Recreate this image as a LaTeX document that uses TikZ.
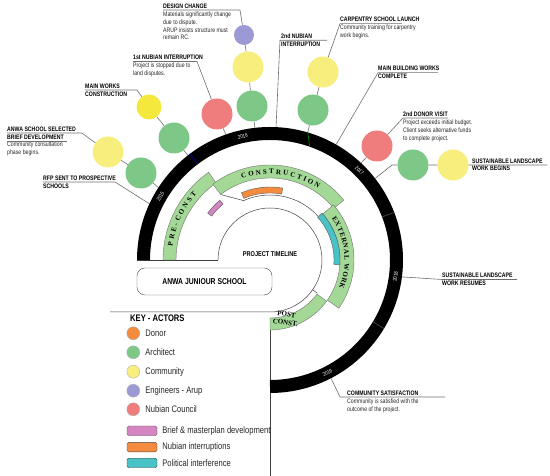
\documentclass[tikz,border=0pt]{standalone}
\usepackage{fontspec}
\setmainfont{Liberation Sans}[FakeStretch=0.8]
\newfontfamily\phasefont{Liberation Serif}
\usetikzlibrary{positioning,decorations.text}

\definecolor{archgreen}{HTML}{7DC887}
\definecolor{comyellow}{HTML}{F8EE7D}
\definecolor{workyellow}{HTML}{F4E83C}
\definecolor{nubred}{HTML}{F07D7D}
\definecolor{engpurple}{HTML}{9C9AD4}
\definecolor{donorange}{HTML}{F58B3F}
\definecolor{phasegreen}{HTML}{A3D896}
\definecolor{briefpink}{HTML}{D586C2}
\definecolor{polcyan}{HTML}{48C1C7}
\definecolor{leadgrey}{HTML}{6E6E6E}

\newcommand{\phasestyle}{\phasefont\bfseries\fontsize{7}{7}\selectfont}
% annular piece round the centre C: style, from, to, inner r, outer r
\newcommand{\ringpart}[5]{%
  \path[#1] ([shift={(#2:#4)}]C) arc[start angle=#2, end angle=#3, radius=#4]
    -- ([shift={(#3:#5)}]C) arc[start angle=#3, end angle=#2, radius=#5] -- cycle;}

\begin{document}
\begin{tikzpicture}[x=1pt, y=1pt,
    ttl/.style={font=\fontsize{6.5}{7.8}\selectfont\bfseries, inner sep=0pt, anchor=base west},
    note/.style={font=\fontsize{6.5}{7.8}\selectfont, text=black!85, inner sep=0pt, anchor=base west, align=left},
    actor/.style={circle, inner sep=0pt, minimum size=31pt},
    keydot/.style={circle, inner sep=0pt, minimum size=13pt, draw=gray!60},
    keybar/.style={draw=black!70, rounded corners=1.5pt, minimum width=30pt, minimum height=9.5pt, inner sep=0pt},
    keytext/.style={font=\fontsize{9.5}{10}\selectfont, text=black!85, inner sep=0pt},
    lead/.style={draw=leadgrey, line width=0.6pt},
    phase/.style={fill=phasegreen, draw=black!55, line width=0.4pt},
    bar/.style={draw=black!65, line width=0.4pt},
    yr/.style={font=\fontsize{5.5}{6}\selectfont, text=white, inner sep=0pt}]

    \useasboundingbox (0,0) rectangle (550,476);
    \coordinate (C) at (270,216);

    % Inner frame and key box
    \draw[black!75, line width=0.5pt] ([shift={(180:52pt)}]C) arc[start angle=180, end angle=-90, radius=52pt] -- (110,164);
    \draw[black!75, line width=0.5pt] (137,216) -- (218,216);
    \draw[black!75, line width=0.5pt] (270,158) -- (270,0);
    \draw[black!75, line width=0.5pt] ([shift={(-35:52pt)}]C) -- ([shift={(-35:58pt)}]C);
    \draw[black!75, line width=0.5pt] ([shift={(127:82pt)}]C) -- ([shift={(114:65pt)}]C) arc[start angle=114, end angle=42, radius=65pt];

    % Phases
    \ringpart{phase}{180}{125}{94pt}{107pt}
    \ringpart{phase}{127}{39}{82pt}{95pt}
    \ringpart{phase}{41}{-35}{70pt}{84pt}
    \ringpart{phase}{-36}{-90}{58pt}{70pt}
    \path[decorate, decoration={text along path, text={|\phasestyle|PRE-CONST}, text align={fit to path}}]
        ([shift={(172:98.5pt)}]C) arc[start angle=172, end angle=138, radius=98.5pt];
    \path[decorate, decoration={text along path, text={|\phasestyle|CONSTRUCTION}, text align={fit to path}}]
        ([shift={(109:86pt)}]C) arc[start angle=109, end angle=56, radius=86pt];
    \path[decorate, decoration={text along path, text={|\phasestyle|EXTERNAL WORK}, text align={fit to path}}]
        ([shift={(34:74.5pt)}]C) arc[start angle=34, end angle=-22, radius=74.5pt];
    \node[font=\phasefont\bfseries\fontsize{7}{8.4}\selectfont, align=center, inner sep=0pt, rotate=-8] (post) at (286,157.5) {POST\\CONST.};

    % Events along the phases
    \ringpart{bar, fill=briefpink}{143}{130}{73pt}{78pt}
    \ringpart{bar, fill=donorange}{113}{80}{67pt}{73pt}
    \ringpart{bar, fill=polcyan}{42}{-4}{64pt}{70pt}

    % Centre labels
    \node[font=\fontsize{7}{8}\selectfont\bfseries, inner sep=0pt] (tl) at (270,222) {PROJECT TIMELINE};
    \node[draw=black!70, rounded corners=8pt, minimum width=135pt, minimum height=27pt,
        font=\fontsize{8.5}{9}\selectfont\bfseries] (school) at (204.5,194.5) {ANWA JUNIOUR SCHOOL};

    % Actors
    \node[actor, fill=engpurple, minimum size=20pt] (eng) at (244,441) {};
    \node[actor, fill=comyellow] (dc-com) at (248,409) {};
    \node[actor, fill=archgreen] (dc-arch) at (252,370) {};
    \node[actor, fill=nubred] (nub1) at (217,362) {};
    \node[actor, fill=workyellow, minimum size=25pt] (mw-com) at (149,369) {};
    \node[actor, fill=archgreen] (mw-arch) at (174,338) {};
    \node[actor, fill=comyellow] (anwa-com) at (108,324) {};
    \node[actor, fill=archgreen] (anwa-arch) at (141,303) {};
    \node[actor, fill=comyellow] (carp-com) at (323,404) {};
    \node[actor, fill=archgreen] (carp-arch) at (313,366) {};
    \node[actor, fill=nubred] (donor2) at (377,330) {};
    \node[actor, fill=archgreen] (sl-arch) at (413,311) {};
    \node[actor, fill=comyellow] (sl-com) at (453,311) {};

    % Where the leaders meet the year ring
    \coordinate (dc-r) at ([shift={(96.5:133pt)}]C);
    \coordinate (nub1-r) at ([shift={(109.4:133pt)}]C);
    \coordinate (mw-r) at ([shift={(128.1:133pt)}]C);
    \coordinate (anwa-r) at ([shift={(147:133pt)}]C);
    \coordinate (rfp-r) at ([shift={(155:133pt)}]C);
    \coordinate (nub2-r) at ([shift={(87.4:133pt)}]C);
    \coordinate (carp-r) at ([shift={(73.5:133pt)}]C);
    \coordinate (mbw-r) at ([shift={(60.2:133pt)}]C);
    \coordinate (donor2-r) at ([shift={(46.8:133pt)}]C);
    \coordinate (sl-r) at ([shift={(37.8:133pt)}]C);
    \coordinate (slr-r) at ([shift={(-7.3:133pt)}]C);
    \coordinate (cs-r) at ([shift={(-62.7:133pt)}]C);

    % Design change
    \node[ttl] (dc) at (163,467.5) {DESIGN CHANGE};
    \node[note] (dc-n) at (163,436.1) {Materials significantly change\\due to dispute.\\ARUP insists structure must\\remain RC.};
    \coordinate (dc-a) at (163,466);
    \coordinate (dc-b) at (240,466);
    \draw[lead] (dc-a) -- (dc-b) -- (eng) -- (dc-com) -- (dc-arch) -- (dc-r);

    % 1st nubian interruption
    \node[ttl] (nub1-t) at (133,416.5) {1st NUBIAN INTERRUPTION};
    \node[note] (nub1-n) at (133,400.4) {Project is stopped due to\\land disputes.};
    \coordinate (nub1-a) at (133,414.5);
    \coordinate (nub1-b) at (197,414.5);
    \draw[lead] (nub1-a) -- (nub1-b) -- (nub1) -- (nub1-r);

    % Main works
    \node[ttl] (mw) at (85,387.8) {MAIN WORKS};
    \node[ttl] (mw-2) at (85,379.5) {CONSTRUCTION};
    \coordinate (mw-a) at (85,386);
    \coordinate (mw-b) at (137,386);
    \draw[lead] (mw-a) -- (mw-b) -- (mw-com) -- (mw-arch) -- (mw-r);

    % School selected
    \node[ttl] (anwa) at (7,344.8) {ANWA SCHOOL SELECTED};
    \node[ttl] (anwa-2) at (7,336.7) {BRIEF DEVELOPMENT};
    \node[note] (anwa-n) at (7,321.5) {Community consultation\\phase begins.};
    \coordinate (anwa-a) at (7,343);
    \coordinate (anwa-b) at (81.7,343);
    \coordinate (anwa-c) at (7,335);
    \coordinate (anwa-d) at (67,335);
    \draw[lead] (anwa-c) -- (anwa-d);
    \draw[lead] (anwa-a) -- (anwa-b) -- (anwa-com) -- (anwa-arch) -- (anwa-r);

    % RFP
    \node[ttl] (rfp) at (43,295.5) {RFP SENT TO PROSPECTIVE};
    \node[ttl] (rfp-2) at (43,287.5) {SCHOOLS};
    \coordinate (rfp-a) at (43,294);
    \coordinate (rfp-b) at (115,294);
    \draw[lead] (rfp-a) -- (rfp-b) -- (rfp-r);

    % 2nd nubian interruption
    \node[ttl] (nub2) at (281,437.7) {2nd NUBIAN};
    \node[ttl] (nub2-2) at (281,429.5) {INTERRUPTION};
    \coordinate (nub2-a) at (280,435.7);
    \coordinate (nub2-b) at (327,435.7);
    \draw[lead] (nub2-b) -- (nub2-a) -- (nub2-r);

    % Carpentry school
    \node[ttl] (carp) at (340,454) {CARPENTRY SCHOOL LAUNCH};
    \node[note] (carp-n) at (340,438.2) {Community training for carpentry\\work begins.};
    \coordinate (carp-a) at (340,452.3);
    \coordinate (carp-b) at (402,452.3);
    \draw[lead] (carp-b) -- (carp-a) -- (carp-com) -- (carp-arch) -- (carp-r);

    % Main building works
    \node[ttl] (mbw) at (378,405) {MAIN BUILDING WORKS};
    \node[ttl] (mbw-2) at (378,397) {COMPLETE};
    \coordinate (mbw-a) at (378,403.3);
    \coordinate (mbw-b) at (438,403.3);
    \draw[lead] (mbw-b) -- (mbw-a) -- (mbw-r);

    % 2nd donor visit
    \node[ttl] (don) at (403,359.5) {2nd DONOR VISIT};
    \node[note] (don-n) at (403,335.9) {Project exceeds initial budget.\\Client seeks alternative funds\\to complete project.};
    \coordinate (don-a) at (403,358);
    \coordinate (don-b) at (448,358);
    \draw[lead] (don-b) -- (don-a) -- (donor2) -- (donor2-r);

    % Landscape begins
    \node[ttl] (sl) at (472,312.7) {SUSTAINABLE LANDSCAPE};
    \node[ttl] (sl-2) at (472,305.3) {WORK BEGINS};
    \coordinate (sl-a) at (392,311);
    \coordinate (sl-b) at (547,311);
    \draw[lead] (sl-r) -- (sl-a) -- (sl-arch) -- (sl-com) -- (sl-b);

    % Landscape resumes
    \node[ttl] (slr) at (442,198) {SUSTAINABLE LANDSCAPE};
    \node[ttl] (slr-2) at (442,190) {WORK RESUMES};
    \coordinate (slr-a) at (442,196.5);
    \coordinate (slr-b) at (517,196.5);
    \draw[lead] (slr-r) -- (slr-a) -- (slr-b);

    % Community satisfaction
    \node[ttl] (cs) at (347,80.5) {COMMUNITY SATISFACTION};
    \node[note] (cs-n) at (347,64.7) {Community is satisfied with the\\outcome of the project.};
    \coordinate (cs-a) at (340,79);
    \coordinate (cs-b) at (445,79);
    \draw[lead] (cs-r) -- (cs-a) -- (cs-b);

    % Year ring
    \draw[line width=13pt] ([shift={(180:126.5pt)}]C) arc[start angle=180, end angle=-90, radius=126.5pt];
    \draw[line width=0.8pt, blue!60!black] ([shift={(127:120pt)}]C) -- ([shift={(127:133pt)}]C);
    \draw[line width=0.8pt, green!45!black] ([shift={(73.5:133pt)}]C) -- ([shift={(70.8:120.5pt)}]C);
    \draw[line width=0.8pt, black!75] ([shift={(21:120pt)}]C) -- ([shift={(21:133pt)}]C);
    \draw[line width=0.8pt, black!75] ([shift={(-31:120pt)}]C) -- ([shift={(-31:133pt)}]C);
    \node[yr, rotate=60] (y15) at ([shift={(150:126.5pt)}]C) {2015};
    \node[yr, rotate=12.4] (y16) at ([shift={(102.4:126.5pt)}]C) {2016};
    \node[yr, rotate=-45] (y17) at ([shift={(45:126.5pt)}]C) {2017};
    \node[yr, rotate=82.4] (y18) at ([shift={(-7.6:126.5pt)}]C) {2018};
    \node[yr, rotate=27] (y19) at ([shift={(-63:126.5pt)}]C) {2019};

    % Key
    \node[font=\fontsize{9.5}{10}\selectfont\bfseries, inner sep=0pt, anchor=base west] (key) at (130,154.3) {KEY - ACTORS};
    \node[keydot, fill=donorange] (k1) at (133.3,142.7) {};
    \node[keydot, fill=archgreen] (k2) at (133.3,123.7) {};
    \node[keydot, fill=comyellow] (k3) at (133.3,104.3) {};
    \node[keydot, fill=engpurple] (k4) at (133.3,85.3) {};
    \node[keydot, fill=nubred] (k5) at (133.3,66.7) {};
    \node[keytext, right=5.2pt of k1] (k1-t) {Donor};
    \node[keytext, right=5.2pt of k2] (k2-t) {Architect};
    \node[keytext, right=5.2pt of k3] (k3-t) {Community};
    \node[keytext, right=5.2pt of k4] (k4-t) {Engineers - Arup};
    \node[keytext, right=5.2pt of k5] (k5-t) {Nubian Council};
    \node[keybar, fill=briefpink] (b1) at (142,45.2) {};
    \node[keybar, fill=donorange] (b2) at (142,28.8) {};
    \node[keybar, fill=polcyan] (b3) at (142,13) {};
    \node[keytext, right=5pt of b1] (b1-t) {Brief \& masterplan development};
    \node[keytext, right=5pt of b2] (b2-t) {Nubian interruptions};
    \node[keytext, right=5pt of b3] (b3-t) {Political interference};

\end{tikzpicture}
\end{document}
